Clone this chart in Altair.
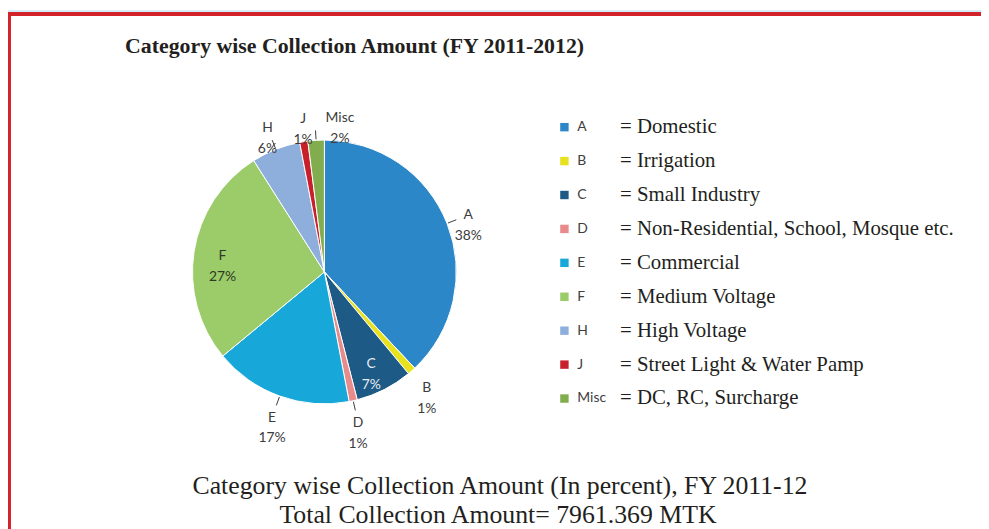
import json
import altair as alt
import pandas as pd

# ---------------- data ----------------
categories = ["A", "B", "C", "D", "E", "F", "H", "J", "Misc"]
values = [38, 1, 7, 1, 17, 27, 6, 1, 2]
descriptions = [
    "Domestic",
    "Irrigation",
    "Small Industry",
    "Non-Residential, School, Mosque etc.",
    "Commercial",
    "Medium Voltage",
    "High Voltage",
    "Street Light & Water Pamp",
    "DC, RC, Surcharge",
]
colors = ["#2b87c8", "#e8e11e", "#1e5a86", "#e98b8b", "#17a8d9",
          "#9ccc6a", "#8eafdb", "#c8202b", "#82ad4e"]
inside_labels = ["C", "F"]
leader_labels = ["A", "D", "E", "H", "Misc"]

title_text = "Category wise Collection Amount (FY 2011-2012)"
caption_1 = "Category wise Collection Amount (In percent), FY 2011-12"
caption_2 = "Total Collection Amount= 7961.369 MTK"

df = pd.DataFrame({"cat": categories, "value": values,
                   "desc": descriptions, "idx": list(range(len(categories)))})
one = pd.DataFrame({"k": [0]})

# ---------------- layout ----------------
W, H = 981, 521
CX, CY, R = 319, 264, 133
SERIF = "Liberation Serif"
SANS = "Lato"
MIN_SEP = 3.8  # minimum spacing between outside labels, in percent of the circle

color_scale = alt.Scale(domain=categories, range=colors)

band = alt.Chart(one).mark_rect(fill="#d4ebf8").encode(
    x=alt.value(0), x2=alt.value(W), y=alt.value(0), y2=alt.value(2))
frame = alt.Chart(one).mark_rect(fill="white", stroke="#d2232a", strokeWidth=4).encode(
    x=alt.value(1), x2=alt.value(W + 20), y=alt.value(4), y2=alt.value(H + 20))

title = alt.Chart(one).mark_text(
    text=title_text, font=SERIF, fontSize=22, fontWeight="bold", color="#231f20",
    align="left", baseline="alphabetic").encode(x=alt.value(118), y=alt.value(43))

base = alt.Chart(df)

pie = base.mark_arc(radius=R, stroke="white", strokeWidth=1).encode(
    theta=alt.Theta("value:Q", stack=True, scale=alt.Scale(domain=[0, 100])),
    order=alt.Order("idx:Q", sort="ascending"),
    color=alt.Color("cat:N", scale=color_scale, legend=None),
    x=alt.value(CX), y=alt.value(CY))

withmid = base.transform_window(
    cum="sum(value)", sort=[alt.SortField("idx")], frame=[None, 0]
).transform_calculate(
    mid="datum.cum - datum.value / 2",
    ang="(datum.cum - datum.value / 2) / 100 * 2 * PI",
    lab="datum.cat + '\\n' + datum.value + '%'",
)

inside_js = json.dumps(inside_labels)
leader_js = json.dumps(leader_labels)

theta_mid = alt.Theta("mid:Q", scale=alt.Scale(domain=[0, 100]), stack=False)
theta_lab = alt.Theta("lmid:Q", scale=alt.Scale(domain=[0, 100]), stack=False)

# outside labels, spread so that neighbouring labels keep a minimum angular gap
outer = withmid.transform_filter(
    f"indexof({inside_js}, datum.cat) < 0"
).transform_window(
    rank="row_number()", sort=[alt.SortField("idx")]
).transform_calculate(
    v=f"datum.mid - datum.rank * {MIN_SEP}"
).transform_window(
    cm="max(v)", sort=[alt.SortField("idx")], frame=[None, 0]
).transform_calculate(
    lmid=f"datum.cm + datum.rank * {MIN_SEP}"
).mark_text(
    radius=156, lineBreak="\n", font=SANS, fontSize=14, lineHeight=21,
    color="#3c3c3c", align="center", baseline="middle").encode(
    theta=theta_lab, text="lab:N", x=alt.value(CX), y=alt.value(CY))

inner = withmid.transform_filter(f"indexof({inside_js}, datum.cat) >= 0").mark_text(
    radius=104, lineBreak="\n", font=SANS, fontSize=14, lineHeight=21,
    align="center", baseline="middle").encode(
    theta=theta_mid, text="lab:N", x=alt.value(CX), y=alt.value(CY),
    color=alt.condition(alt.datum.cat == "C", alt.value("#e4ecf3"), alt.value("#2e3a24")))

r1, r2 = R + 1, R + 10
leaders = withmid.transform_filter(f"indexof({leader_js}, datum.cat) >= 0").transform_calculate(
    lx1=f"{CX} + {r1} * sin(datum.ang)",
    ly1=f"{CY} - {r1} * cos(datum.ang)",
    lx2=f"{CX} + {r2} * sin(datum.ang)",
    ly2=f"{CY} - {r2} * cos(datum.ang)",
).mark_rule(color="#3c3c3c", strokeWidth=1).encode(
    x=alt.X("lx1:Q", scale=None), y=alt.Y("ly1:Q", scale=None),
    x2="lx2:Q", y2="ly2:Q")

legend_y = alt.Y("cat:N", sort=categories,
                 scale=alt.Scale(type="point", domain=categories, range=[118, 391.6], padding=0),
                 axis=None)

swatch = base.mark_square(size=72, opacity=1).encode(
    x=alt.value(561), y=legend_y,
    color=alt.Color("cat:N", scale=color_scale, legend=None))
letters = base.mark_text(align="left", baseline="middle", font=SANS, fontSize=14,
                         color="#404040").encode(x=alt.value(574), y=legend_y, text="cat:N")
desc = base.transform_calculate(dtext="'= ' + datum.desc").mark_text(
    align="left", baseline="middle", font=SERIF, fontSize=21, color="#231f20").encode(
    x=alt.value(617), y=legend_y, text="dtext:N")

cap1 = alt.Chart(one).mark_text(text=caption_1, font=SERIF, fontSize=26, color="#231f20",
                                align="center", baseline="middle").encode(
    x=alt.value(496), y=alt.value(480))
cap2 = alt.Chart(one).mark_text(text=caption_2, font=SERIF, fontSize=26, color="#231f20",
                                align="center", baseline="middle").encode(
    x=alt.value(494), y=alt.value(509))

chart = alt.layer(
    band, frame, title, pie, leaders, outer, inner, swatch, letters, desc, cap1, cap2
).resolve_scale(
    x="independent", y="independent"
).properties(
    width=W, height=H, padding=0, autosize=alt.AutoSizeParams(type="none")
).configure_view(stroke=None)

chart.save("out.html", embed_options={"renderer": "svg", "actions": False})
